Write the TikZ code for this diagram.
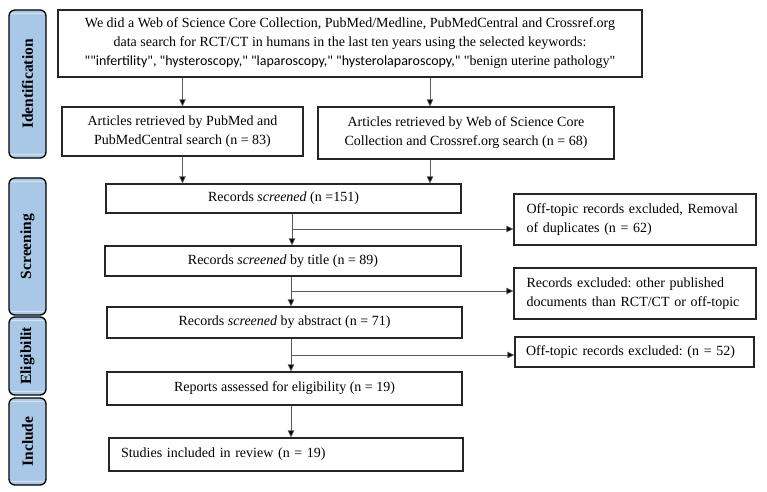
\documentclass[tikz,border=0pt]{standalone}
\usepackage{fontspec}
\setmainfont{Liberation Serif}[Ligatures=TeXOff]
\newfontfamily\kwfont{Carlito}
\usepackage{tikz}
\usetikzlibrary{arrows.meta}
\definecolor{tabblue}{HTML}{A9C7E6}
\definecolor{tabedge}{HTML}{D2E3F4}
\definecolor{linegray}{HTML}{5A5A5A}
\newcommand{\fullline}[1]{\makebox[\linewidth][s]{#1}}
\frenchspacing

\begin{document}
\begin{tikzpicture}[x=1pt, y=-1pt,
    box/.style={draw=black!85, line width=1.2pt, minimum height=30, align=center, font=\fontsize{14}{19}\selectfont, inner sep=0pt},
    sidebox/.style={box, align=left, text width=217, minimum width=242},
    tab/.style={draw=black, line width=1.3pt, rounded corners=6pt, fill=tabblue, rotate=90, minimum height=37,
        font=\bfseries\fontsize{15.5}{16}\selectfont,
        path picture={\draw[tabedge, line width=1.4pt, rounded corners=4pt] ([shift={(3.5pt,3.5pt)}]path picture bounding box.south west) rectangle ([shift={(-3.5pt,-3.5pt)}]path picture bounding box.north east);}},
    flow/.style={draw=linegray, line width=0.7pt, -{Triangle[length=7pt, width=6.5pt, fill=black]}}]
\useasboundingbox (0,0) rectangle (767,491);

% phase tabs on the left
\node at (27.5,84) [tab, minimum width=148] (identification) {Identification};
\node at (27.5,246.5) [tab, minimum width=137] (screening) {Screening};
\node at (27.5,356) [tab, minimum width=78] (eligibility) {Eligibilit};
\node at (27.5,441.5) [tab, minimum width=87] (include) {Include};

% search and retrieval
\node at (350,43.5) [box, minimum width=584, minimum height=67] (search) {We did a Web of Science Core Collection, PubMed/Medline, PubMedCentral and Crossref.org\\data search for RCT/CT in humans in the last ten years using the selected keywords:\\{\kwfont ""infertility", "hysteroscopy," "laparoscopy," "hysterolaparoscopy,"} "benign uterine pathology"};
\node at (182.5,131.5) [box, minimum width=241, minimum height=49] (pubmed) {Articles retrieved by PubMed and\\PubMedCentral search (n = 83)};
\node at (466,133) [box, minimum width=296, minimum height=52] (wos) {Articles retrieved by Web of Science Core\\Collection and Crossref.org search (n = 68)};

% screening chain
\node at (283.5,198.5) [box, minimum width=355, minimum height=29] (records) {Records \textit{screened} (n =151)};
\node at (283,261) [box, minimum width=356] (bytitle) {Records \textit{screened} by title (n = 89)};
\node at (284.5,322.5) [box, minimum width=355, minimum height=31] (byabstract) {Records \textit{screened} by abstract (n = 71)};
\node at (284.5,388.5) [box, minimum width=355, minimum height=33] (reports) {Reports assessed for eligibility (n = 19)};
\node at (286,454.5) [box, minimum width=354, minimum height=33, text width=330, align=left] (included) {Studies included in review (n = 19)};

% excluded records
\node at (635,219.5) [sidebox, minimum height=51] (excl one) {\fullline{Off-topic records excluded, Removal}\\of duplicates (n = 62)};
\node at (635,293.5) [sidebox, minimum height=51] (excl two) {\fullline{Records excluded: other published}\\documents than RCT/CT or off-topic};
\node at (634.5,352) [sidebox, minimum width=239, minimum height=30] (excl three) {Off-topic records excluded: (n = 52)};

% arrows
\draw [flow] (search.south -| pubmed.north) -- (pubmed.north);
\draw [flow] (search.south -| 430,0) -- (430,0 |- wos.north);
\draw [flow] (pubmed.south) -- (pubmed.south |- records.north);
\draw [flow] (430,0 |- wos.south) -- (430,0 |- records.north);
\draw [flow] (records.south -| 292,0) -- (292,0 |- bytitle.north);
\draw [flow] (bytitle.south -| 291,0) -- (291,0 |- byabstract.north);
\draw [flow] (byabstract.south -| 291,0) -- (291,0 |- reports.north);
\draw [flow] (reports.south -| 291,0) -- (291,0 |- included.north);
% side branches to the excluded boxes
\coordinate (branch one) at (292,229);
\coordinate (branch two) at (291,291);
\coordinate (branch three) at (291,355);
\draw [flow] (branch one) -- (branch one -| excl one.west);
\draw [flow] (branch two) -- (branch two -| excl two.west);
\draw [flow] (branch three) -- (branch three -| excl three.west);
\end{tikzpicture}
\end{document}
